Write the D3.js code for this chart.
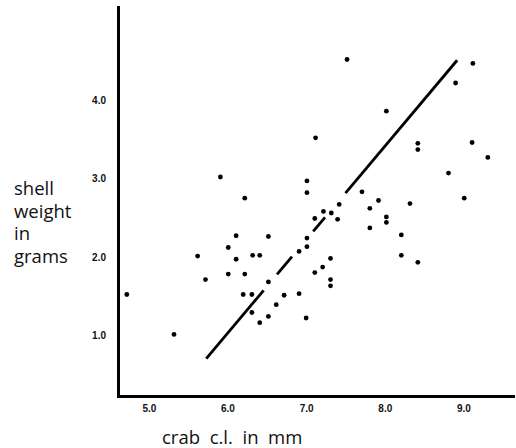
<!DOCTYPE html>
<html>
<head>
<meta charset="utf-8">
<script src="https://cdn.jsdelivr.net/npm/d3@7"></script>
<style>
	body { margin: 0; background: #fff; }
	.title { font-family: 'Open Sans', sans-serif; font-size: 18.5px; fill: #111; white-space: pre; }
	.tick text { font-family: 'Liberation Sans', Arial, sans-serif; font-size: 10px; font-weight: bold; fill: #111; }
</style>
</head>
<body>
<svg id="chart"></svg>
<script>
// crab carapace length (mm) vs shell weight (g)
var clLength = [4.72, 5.32, 5.62, 5.72, 5.91, 6.01, 6.01, 6.11, 6.11, 6.22,
	6.20, 6.31, 6.31, 6.41, 6.32, 6.41, 6.22, 6.52, 6.52, 6.52,
	6.62, 6.72, 6.91, 6.91, 7.00, 7.01, 7.01, 7.01, 7.01, 7.11,
	7.11, 7.12, 7.22, 7.21, 7.31, 7.31, 7.31, 7.32, 7.40, 7.42,
	7.52, 7.71, 7.81, 7.92, 7.81, 8.02, 8.02, 8.02, 8.21, 8.21,
	8.32, 8.42, 8.42, 8.42, 8.81, 8.90, 9.01, 9.12, 9.11, 9.31];
var shellWeight = [1.52, 1.01, 2.01, 1.71, 3.02, 2.12, 1.78, 2.27, 1.97, 1.78,
	1.52, 1.52, 1.29, 1.16, 2.02, 2.02, 2.75, 2.26, 1.68, 1.24,
	1.39, 1.51, 2.07, 1.53, 1.22, 2.13, 2.24, 2.97, 2.82, 2.49,
	1.80, 3.52, 2.58, 1.87, 1.98, 1.71, 1.63, 2.56, 2.48, 2.67,
	4.52, 2.83, 2.62, 2.72, 2.37, 3.86, 2.51, 2.44, 2.28, 2.02,
	2.68, 3.45, 3.37, 1.93, 3.07, 4.22, 2.75, 4.47, 3.46, 3.27];

var xTicks = [5.0, 6.0, 7.0, 8.0, 9.0];
var yTicks = [1.0, 2.0, 3.0, 4.0];

// fitted line, drawn in pieces (gaps where it runs through the dots)
var fitSlope = 1.194;
var fitIntercept = -6.14;
var fitFrom = [5.73, 6.63, 7.09, 7.50];
var fitTo = [6.46, 6.82, 7.24, 8.92];

var yTitle = ['shell', 'weight', 'in', 'grams'];
var xTitle = 'crab  c.l.  in  mm';

var width = 516;
var height = 448;

var chart = d3.select('#chart')
	.attr('width', width)
	.attr('height', height);

var x = d3.scaleLinear()
	.domain([4.608, 9.63])
	.range([118, 513]);

var y = d3.scaleLinear()
	.domain([0.224, 5.19])
	.range([396, 7]);

var points = clLength.map(function(d, i) {
	return [d, shellWeight[i]];
});

var segments = fitFrom.map(function(d, i) {
	return [d, fitTo[i]];
});

chart.selectAll('line.fit')
	.data(segments)
	.enter()
	.append('line')
	.attr('class', 'fit')
	.attr('x1', function(d) { return x(d[0]); })
	.attr('y1', function(d) { return y(fitIntercept + fitSlope * d[0]); })
	.attr('x2', function(d) { return x(d[1]); })
	.attr('y2', function(d) { return y(fitIntercept + fitSlope * d[1]); })
	.style('stroke', '#000')
	.style('stroke-width', 2.8);

chart.selectAll('circle')
	.data(points)
	.enter()
	.append('circle')
	.attr('r', 2.4)
	.attr('cx', function(d) { return x(d[0]); })
	.attr('cy', function(d) { return y(d[1]); })
	.style('fill', '#000');

var xAxis = chart.append('g')
	.attr('transform', 'translate(0,396)')
	.call(d3.axisBottom(x)
		.tickValues(xTicks)
		.tickSize(0)
		.tickPadding(9)
		.tickFormat(d3.format('.1f')));

var yAxis = chart.append('g')
	.attr('transform', 'translate(118,0)')
	.call(d3.axisLeft(y)
		.tickValues(yTicks)
		.tickSize(0)
		.tickPadding(12)
		.tickFormat(d3.format('.1f')));

chart.selectAll('.domain')
	.style('stroke', '#000')
	.style('stroke-width', 3)
	.style('stroke-linecap', 'square');

chart.selectAll('text.ytitle')
	.data(yTitle)
	.enter()
	.append('text')
	.attr('class', 'title ytitle')
	.attr('x', 14)
	.attr('y', function(d, i) { return 195 + i * 22.7; })
	.text(function(d) { return d; });

chart.append('text')
	.attr('class', 'title')
	.attr('x', 162)
	.attr('y', 444)
	.text(xTitle);
</script>
</body>
</html>
